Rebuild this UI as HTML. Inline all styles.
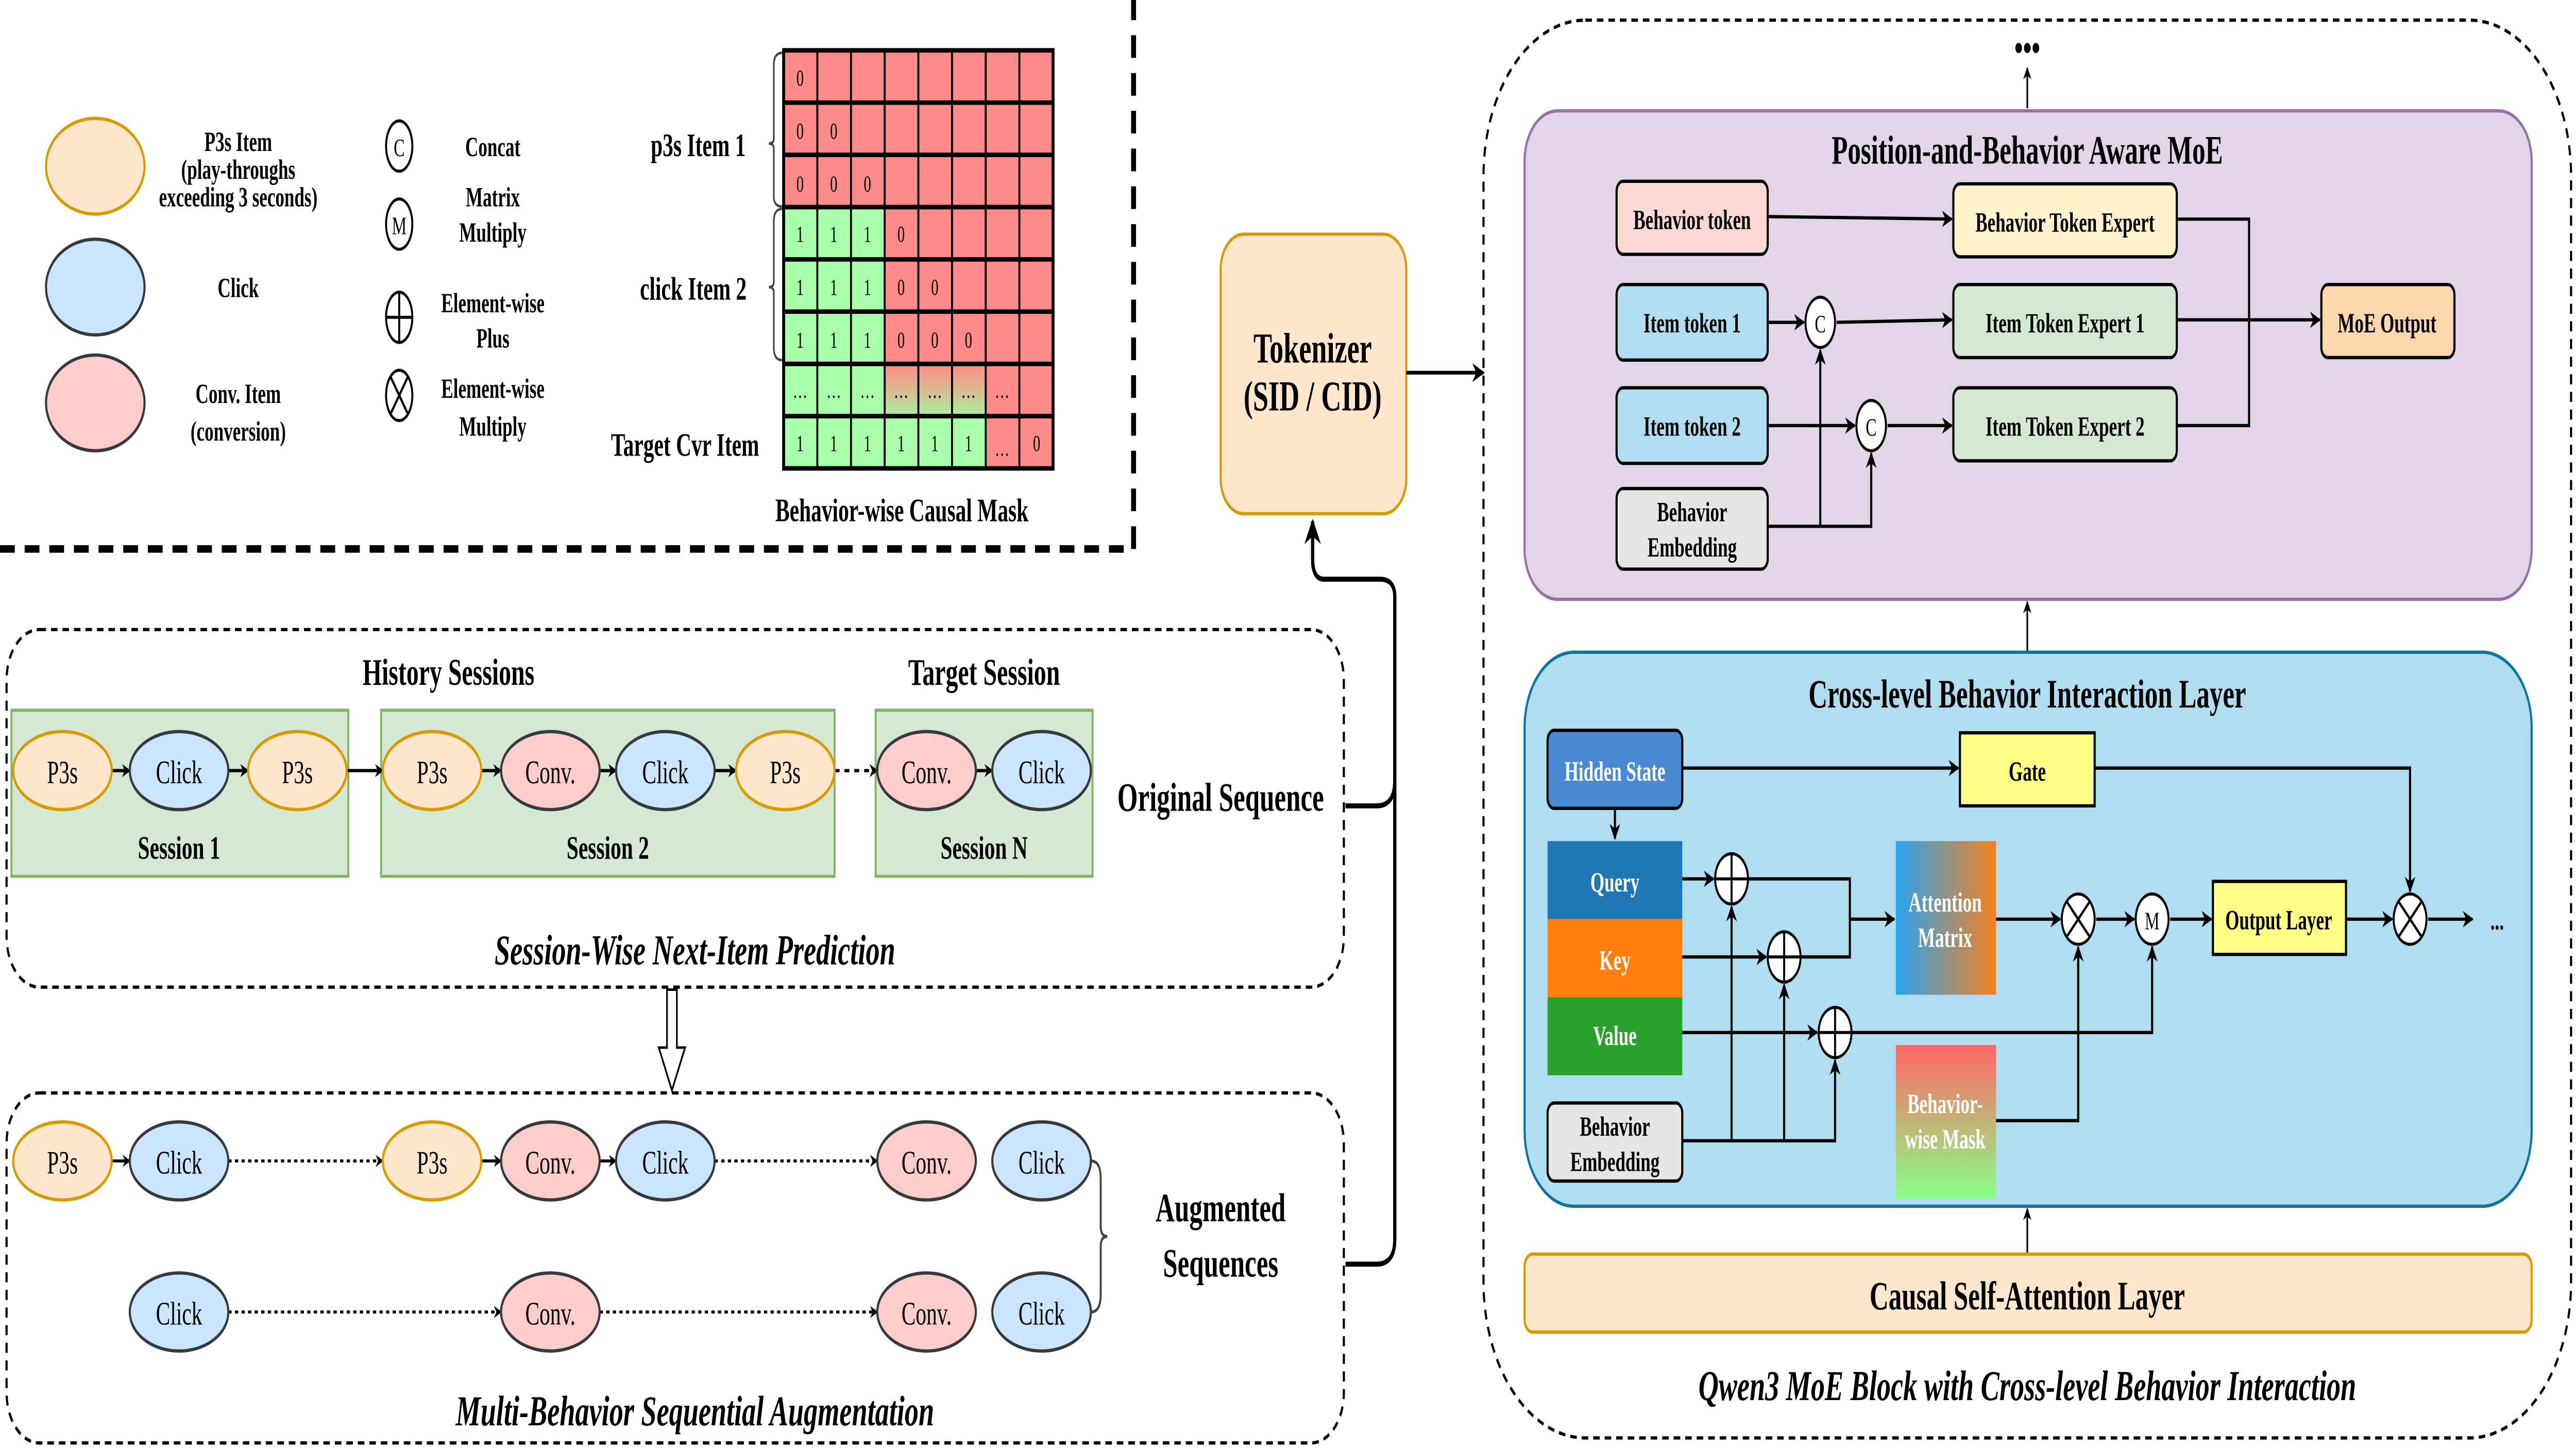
<!DOCTYPE html>
<html><head><meta charset="utf-8"><style>html,body{margin:0;padding:0;background:#fff;width:100vw;height:100vh;overflow:hidden}svg{display:block;position:absolute;left:0;top:0;width:100vw;height:100vh}</style></head>
<body>
<svg xmlns="http://www.w3.org/2000/svg" viewBox="0 0 1568 575" preserveAspectRatio="none" font-family="'Liberation Serif', serif" font-weight="bold">
<defs>
<marker id="a" viewBox="0 0 10 10" refX="9" refY="5" markerWidth="5" markerHeight="5" orient="auto"><path d="M0,0 L10,5 L0,10 L3,5 z" fill="#000"/></marker>
<marker id="s" viewBox="0 0 10 10" refX="9" refY="5" markerWidth="4" markerHeight="4" orient="auto"><path d="M0,0 L10,5 L0,10 L3,5 z" fill="#000"/></marker>
<linearGradient id="att" x1="0" x2="1" y1="0" y2="0"><stop offset="0" stop-color="#2aa3f2"/><stop offset="1" stop-color="#f58220"/></linearGradient>
<linearGradient id="msk" x1="0" x2="0" y1="0" y2="1"><stop offset="0" stop-color="#ff6666"/><stop offset="1" stop-color="#88ff88"/></linearGradient>
<linearGradient id="cg" x1="0" x2="0" y1="0" y2="1"><stop offset="0" stop-color="#ff8a8a"/><stop offset="0.5" stop-color="#d8bb90"/><stop offset="1" stop-color="#aaf0a0"/></linearGradient>
</defs>

<!-- LEGEND -->
<g stroke-width="1.3">
<ellipse cx="58" cy="66" rx="30" ry="19" fill="#ffe6cc" stroke="#d79b00"/>
<ellipse cx="58" cy="114" rx="30" ry="19" fill="#cce5ff" stroke="#36393d"/>
<ellipse cx="58" cy="160" rx="30" ry="19" fill="#ffcccc" stroke="#36393d"/>
</g>
<g font-size="11" text-anchor="middle">
<text x="145" y="60">P3s Item</text><text x="145" y="71">(play-throughs</text><text x="145" y="82">exceeding 3 seconds)</text>
<text x="145" y="118">Click</text>
<text x="145" y="160">Conv. Item</text><text x="145" y="175">(conversion)</text>
<text x="300" y="62">Concat</text>
<text x="300" y="82">Matrix</text><text x="300" y="96">Multiply</text>
<text x="300" y="124">Element-wise</text><text x="300" y="138">Plus</text>
<text x="300" y="158">Element-wise</text><text x="300" y="173">Multiply</text>
</g>
<g fill="#fff" stroke="#000" stroke-width="1.2">
<ellipse cx="243" cy="58" rx="8" ry="10"/><ellipse cx="243" cy="89" rx="8" ry="10"/>
<ellipse cx="243" cy="126" rx="8" ry="10"/><ellipse cx="243" cy="157" rx="8" ry="10"/>
</g>
<g stroke="#000" stroke-width="1.2"><line x1="235" y1="126" x2="251" y2="126"/><line x1="243" y1="116" x2="243" y2="136"/>
<line x1="238" y1="150" x2="248" y2="164"/><line x1="248" y1="150" x2="238" y2="164"/></g>
<g font-size="10" text-anchor="middle" font-weight="normal"><text x="243" y="62">C</text><text x="243" y="93">M</text></g>

<!-- MATRIX -->
<rect x="477" y="20" width="164" height="166" fill="#ff8a8a"/>
<rect x="477" y="82.25" width="61.5" height="103.75" fill="#aaffaa"/>
<rect x="538.5" y="165.25" width="61.5" height="20.75" fill="#aaffaa"/>
<rect x="538.5" y="144.5" width="61.5" height="20.75" fill="url(#cg)"/>
<g stroke="#000" stroke-width="1.2">
<rect x="477" y="20" width="164" height="166" fill="none" stroke-width="1.8"/>
<line x1="497.5" y1="20" x2="497.5" y2="186"/><line x1="518" y1="20" x2="518" y2="186"/><line x1="538.5" y1="20" x2="538.5" y2="186"/><line x1="559" y1="20" x2="559" y2="186"/><line x1="579.5" y1="20" x2="579.5" y2="186"/><line x1="600" y1="20" x2="600" y2="186"/><line x1="620.5" y1="20" x2="620.5" y2="186"/>
<g stroke-width="1.8"><line x1="477" y1="40.75" x2="641" y2="40.75"/><line x1="477" y1="61.5" x2="641" y2="61.5"/><line x1="477" y1="82.25" x2="641" y2="82.25"/><line x1="477" y1="103" x2="641" y2="103"/><line x1="477" y1="123.75" x2="641" y2="123.75"/><line x1="477" y1="144.5" x2="641" y2="144.5"/><line x1="477" y1="165.25" x2="641" y2="165.25"/></g>
</g>
<g font-size="9" font-weight="normal" text-anchor="middle">
<text x="487" y="34">0</text>
<text x="487" y="55">0</text><text x="507.5" y="55">0</text>
<text x="487" y="76">0</text><text x="507.5" y="76">0</text><text x="528" y="76">0</text>
<text x="487" y="96">1</text><text x="507.5" y="96">1</text><text x="528" y="96">1</text><text x="548.5" y="96">0</text>
<text x="487" y="117">1</text><text x="507.5" y="117">1</text><text x="528" y="117">1</text><text x="548.5" y="117">0</text><text x="569" y="117">0</text>
<text x="487" y="138">1</text><text x="507.5" y="138">1</text><text x="528" y="138">1</text><text x="548.5" y="138">0</text><text x="569" y="138">0</text><text x="589.5" y="138">0</text>
<text x="487" y="158">…</text><text x="507.5" y="158">…</text><text x="528" y="158">…</text><text x="548.5" y="158">…</text><text x="569" y="158">…</text><text x="589.5" y="158">…</text><text x="610" y="158">…</text>
<text x="487" y="179">1</text><text x="507.5" y="179">1</text><text x="528" y="179">1</text><text x="548.5" y="179">1</text><text x="569" y="179">1</text><text x="589.5" y="179">1</text><text x="610" y="181">…</text><text x="631" y="179">0</text>
</g>
<path d="M476,21 Q471,21 471,26 L471,55 Q471,57 468,57 Q471,57 471,59 L471,78 Q471,82 476,82" fill="none" stroke="#444" stroke-width="1"/>
<path d="M476,83 Q471,83 471,88 L471,112 Q471,114 468,114 Q471,114 471,116 L471,138 Q471,143 476,143" fill="none" stroke="#444" stroke-width="1"/>
<g font-size="13" text-anchor="middle">
<text x="425" y="62">p3s Item 1</text><text x="422" y="119">click Item 2</text><text x="417" y="181">Target Cvr Item</text>
<text x="549" y="207">Behavior-wise Causal Mask</text>
</g>
<path d="M0,218 L690,218 L690,0" fill="none" stroke="#000" stroke-width="3" stroke-dasharray="9,6"/>

<!-- TOP SESSION BOX -->
<rect x="4" y="250" width="814" height="142" rx="20" fill="none" stroke="#000" stroke-width="1.3" stroke-dasharray="4,3"/>
<g font-size="15" text-anchor="middle"><text x="273" y="272">History Sessions</text><text x="599" y="272">Target Session</text></g>
<g fill="#d5e8d4" stroke="#82b366" stroke-width="1.2">
<rect x="7" y="282" width="205" height="66"/><rect x="232" y="282" width="276" height="66"/><rect x="533" y="282" width="132" height="66"/>
</g>
<g font-size="13" text-anchor="middle"><text x="109" y="341">Session 1</text><text x="370" y="341">Session 2</text><text x="599" y="341">Session N</text></g>
<g stroke="#000" stroke-width="1.3" fill="none">
<line x1="68" y1="306" x2="79" y2="306" marker-end="url(#s)"/><line x1="139" y1="306" x2="151" y2="306" marker-end="url(#s)"/>
<line x1="211" y1="306" x2="233" y2="306" marker-end="url(#s)"/>
<line x1="293" y1="306" x2="305" y2="306" marker-end="url(#s)"/><line x1="365" y1="306" x2="375" y2="306" marker-end="url(#s)"/><line x1="435" y1="306" x2="448" y2="306" marker-end="url(#s)"/>
<line x1="508" y1="306" x2="534" y2="306" stroke-dasharray="3,3" marker-end="url(#s)"/>
<line x1="594" y1="306" x2="604" y2="306" marker-end="url(#s)"/>
</g>
<g stroke-width="1.3">
<ellipse cx="38" cy="306" rx="30" ry="15.5" fill="#ffe6cc" stroke="#d79b00"/>
<ellipse cx="109" cy="306" rx="30" ry="15.5" fill="#cce5ff" stroke="#36393d"/>
<ellipse cx="181" cy="306" rx="30" ry="15.5" fill="#ffe6cc" stroke="#d79b00"/>
<ellipse cx="263" cy="306" rx="30" ry="15.5" fill="#ffe6cc" stroke="#d79b00"/>
<ellipse cx="335" cy="306" rx="30" ry="15.5" fill="#ffcccc" stroke="#36393d"/>
<ellipse cx="405" cy="306" rx="30" ry="15.5" fill="#cce5ff" stroke="#36393d"/>
<ellipse cx="478" cy="306" rx="30" ry="15.5" fill="#ffe6cc" stroke="#d79b00"/>
<ellipse cx="564" cy="306" rx="30" ry="15.5" fill="#ffcccc" stroke="#36393d"/>
<ellipse cx="634" cy="306" rx="30" ry="15.5" fill="#cce5ff" stroke="#36393d"/>
</g>
<g font-size="13" text-anchor="middle" font-weight="normal">
<text x="38" y="311">P3s</text><text x="109" y="311">Click</text><text x="181" y="311">P3s</text><text x="263" y="311">P3s</text><text x="335" y="311">Conv.</text><text x="405" y="311">Click</text><text x="478" y="311">P3s</text><text x="564" y="311">Conv.</text><text x="634" y="311">Click</text>
</g>
<text x="743" y="322" font-size="16" text-anchor="middle">Original Sequence</text>
<text x="423" y="383" font-size="17" font-style="italic" text-anchor="middle">Session-Wise Next-Item Prediction</text>
<path d="M406,393 L412,393 L412,416 L417,416 L409,433 L401,416 L406,416 Z" fill="#fff" stroke="#000" stroke-width="1"/>

<!-- BOTTOM AUG BOX -->
<rect x="4" y="434" width="814" height="139" rx="20" fill="none" stroke="#000" stroke-width="1.3" stroke-dasharray="4,3"/>
<g stroke="#000" stroke-width="1.2" fill="none">
<line x1="68" y1="461" x2="79" y2="461" marker-end="url(#s)"/>
<line x1="139" y1="461" x2="233" y2="461" stroke-dasharray="2,2" marker-end="url(#s)"/>
<line x1="293" y1="461" x2="305" y2="461" marker-end="url(#s)"/><line x1="365" y1="461" x2="375" y2="461" marker-end="url(#s)"/>
<line x1="435" y1="461" x2="534" y2="461" stroke-dasharray="2,2" marker-end="url(#s)"/>
<line x1="139" y1="521" x2="305" y2="521" stroke-dasharray="2,2" marker-end="url(#s)"/>
<line x1="365" y1="521" x2="534" y2="521" stroke-dasharray="2,2" marker-end="url(#s)"/>
<path d="M664,461 Q670,461 670,468 L670,487 Q670,491 674,491 Q670,491 670,495 L670,514 Q670,521 664,521" stroke="#444"/>
</g>
<g stroke-width="1.3">
<ellipse cx="38" cy="461" rx="30" ry="15.5" fill="#ffe6cc" stroke="#d79b00"/>
<ellipse cx="109" cy="461" rx="30" ry="15.5" fill="#cce5ff" stroke="#36393d"/>
<ellipse cx="263" cy="461" rx="30" ry="15.5" fill="#ffe6cc" stroke="#d79b00"/>
<ellipse cx="335" cy="461" rx="30" ry="15.5" fill="#ffcccc" stroke="#36393d"/>
<ellipse cx="405" cy="461" rx="30" ry="15.5" fill="#cce5ff" stroke="#36393d"/>
<ellipse cx="564" cy="461" rx="30" ry="15.5" fill="#ffcccc" stroke="#36393d"/>
<ellipse cx="634" cy="461" rx="30" ry="15.5" fill="#cce5ff" stroke="#36393d"/>
<ellipse cx="109" cy="521" rx="30" ry="15.5" fill="#cce5ff" stroke="#36393d"/>
<ellipse cx="335" cy="521" rx="30" ry="15.5" fill="#ffcccc" stroke="#36393d"/>
<ellipse cx="564" cy="521" rx="30" ry="15.5" fill="#ffcccc" stroke="#36393d"/>
<ellipse cx="634" cy="521" rx="30" ry="15.5" fill="#cce5ff" stroke="#36393d"/>
</g>
<g font-size="13" text-anchor="middle" font-weight="normal">
<text x="38" y="466">P3s</text><text x="109" y="466">Click</text><text x="263" y="466">P3s</text><text x="335" y="466">Conv.</text><text x="405" y="466">Click</text><text x="564" y="466">Conv.</text><text x="634" y="466">Click</text>
<text x="109" y="526">Click</text><text x="335" y="526">Conv.</text><text x="564" y="526">Conv.</text><text x="634" y="526">Click</text>
</g>
<g font-size="16" text-anchor="middle"><text x="743" y="485">Augmented</text><text x="743" y="507">Sequences</text></g>
<text x="423" y="566" font-size="17" font-style="italic" text-anchor="middle">Multi-Behavior Sequential Augmentation</text>

<!-- TOKENIZER & CONNECTORS -->
<rect x="743" y="93" width="113" height="111" rx="14" fill="#ffe6cc" stroke="#d79b00" stroke-width="1.3"/>
<g font-size="17" text-anchor="middle"><text x="799" y="144">Tokenizer</text><text x="799" y="163">(SID / CID)</text></g>
<line x1="856" y1="148" x2="903" y2="148" stroke="#000" stroke-width="1.5" marker-end="url(#a)"/>
<path d="M819,320 L838,320 Q849,320 849,310 L849,237 Q849,230 840,230 L806,230 Q799,230 799,222 L799,207" fill="none" stroke="#000" stroke-width="2" marker-end="url(#a)"/>
<path d="M819,502 L838,502 Q849,502 849,492 L849,310" fill="none" stroke="#000" stroke-width="2"/>

<!-- RIGHT BIG BLOCK -->
<rect x="903" y="8" width="662" height="563" rx="62" fill="none" stroke="#000" stroke-width="1.3" stroke-dasharray="4,3"/>
<text x="1234" y="24" font-size="15" text-anchor="middle">•••</text>
<line x1="1234" y1="43" x2="1234" y2="27" stroke="#000" stroke-width="1" marker-end="url(#a)"/>

<!-- MoE -->
<rect x="928" y="44" width="613" height="194" rx="20" fill="#e1d5e7" stroke="#9673a6" stroke-width="1.3"/>
<text x="1234" y="65" font-size="16" text-anchor="middle">Position-and-Behavior Aware MoE</text>
<g stroke="#000" stroke-width="1.3">
<rect x="984" y="72" width="92" height="29" rx="4" fill="#fad9d5"/>
<rect x="1189" y="73" width="136" height="29" rx="4" fill="#fff2cc"/>
<rect x="984" y="113" width="92" height="30" rx="4" fill="#b1ddf0"/>
<rect x="1189" y="113" width="136" height="29" rx="4" fill="#d5e8d4"/>
<rect x="984" y="154" width="92" height="30" rx="4" fill="#b1ddf0"/>
<rect x="1189" y="154" width="136" height="29" rx="4" fill="#d5e8d4"/>
<rect x="984" y="194" width="92" height="32" rx="4" fill="#e6e6e6"/>
<rect x="1413" y="113" width="81" height="29" rx="4" fill="#fad7ac"/>
</g>
<g stroke="#000" stroke-width="1.3" fill="none">
<line x1="1076" y1="86" x2="1188" y2="87" marker-end="url(#a)"/>
<line x1="1076" y1="128" x2="1098" y2="128" marker-end="url(#a)"/>
<line x1="1118" y1="128" x2="1188" y2="127" marker-end="url(#a)"/>
<line x1="1076" y1="169" x2="1129" y2="169" marker-end="url(#a)"/>
<line x1="1149" y1="169" x2="1188" y2="169" marker-end="url(#a)"/>
<path d="M1076,209 L1139,209 L1139,180" marker-end="url(#a)"/>
<path d="M1108,209 L1108,139" marker-end="url(#a)"/>
<path d="M1325,87 L1369,87 L1369,169 L1325,169"/>
<line x1="1325" y1="127" x2="1412" y2="127" marker-end="url(#a)"/>
</g>
<g fill="#fff" stroke="#000" stroke-width="1.2"><ellipse cx="1108" cy="128" rx="9" ry="10"/><ellipse cx="1139" cy="169" rx="9" ry="10"/></g>
<g font-size="11" text-anchor="middle">
<text x="1030" y="91">Behavior token</text><text x="1257" y="92">Behavior Token Expert</text>
<text x="1030" y="132">Item token 1</text><text x="1257" y="132">Item Token Expert 1</text>
<text x="1030" y="173">Item token 2</text><text x="1257" y="173">Item Token Expert 2</text>
<text x="1030" y="207">Behavior</text><text x="1030" y="221">Embedding</text>
<text x="1453" y="132">MoE Output</text>
<text x="1108" y="132" font-weight="normal" font-size="10">C</text><text x="1139" y="173" font-weight="normal" font-size="10">C</text>
</g>
<line x1="1234" y1="259" x2="1234" y2="239" stroke="#000" stroke-width="1" marker-end="url(#a)"/>

<!-- CROSS-LEVEL -->
<rect x="928" y="259" width="613" height="220" rx="30" fill="#b1ddf0" stroke="#10739e" stroke-width="1.3"/>
<text x="1234" y="281" font-size="16" text-anchor="middle">Cross-level Behavior Interaction Layer</text>
<rect x="942" y="290" width="82" height="31" rx="4" fill="#4a8ad4" stroke="#000" stroke-width="1.3"/>
<rect x="1193" y="291" width="82" height="29" fill="#ffff88" stroke="#000" stroke-width="1.3"/>
<rect x="942" y="334" width="82" height="31" fill="#1f77b4"/>
<rect x="942" y="365" width="82" height="31" fill="#ff7f0e"/>
<rect x="942" y="396" width="82" height="31" fill="#2ca02c"/>
<rect x="942" y="438" width="82" height="31" rx="4" fill="#e6e6e6" stroke="#000" stroke-width="1.3"/>
<rect x="1154" y="334" width="61" height="61" fill="url(#att)"/>
<rect x="1154" y="415" width="61" height="61" fill="url(#msk)"/>
<rect x="1347" y="350" width="81" height="29" fill="#ffff88" stroke="#000" stroke-width="1.3"/>
<g stroke="#000" stroke-width="1.3" fill="none">
<line x1="983" y1="321" x2="983" y2="333" marker-end="url(#a)"/>
<line x1="1024" y1="305" x2="1192" y2="305" marker-end="url(#a)"/>
<path d="M1275,305 L1467,305 L1467,354" marker-end="url(#a)"/>
<line x1="1024" y1="349" x2="1043" y2="349" marker-end="url(#a)"/>
<line x1="1024" y1="380" x2="1075" y2="380" marker-end="url(#a)"/>
<line x1="1024" y1="410" x2="1106" y2="410" marker-end="url(#a)"/>
<path d="M1064,349 L1126,349 L1126,380 L1096,380"/>
<line x1="1126" y1="365" x2="1153" y2="365" marker-end="url(#a)"/>
<path d="M1127,410 L1310,410 L1310,376" marker-end="url(#a)"/>
<path d="M1024,453 L1117,453 L1117,421" marker-end="url(#a)"/>
<path d="M1054,453 L1054,360" marker-end="url(#a)"/>
<path d="M1086,453 L1086,391" marker-end="url(#a)"/>
<line x1="1215" y1="365" x2="1254" y2="365" marker-end="url(#a)"/>
<line x1="1276" y1="365" x2="1299" y2="365" marker-end="url(#a)"/>
<line x1="1321" y1="365" x2="1346" y2="365" marker-end="url(#a)"/>
<line x1="1428" y1="365" x2="1456" y2="365" marker-end="url(#a)"/>
<line x1="1478" y1="365" x2="1505" y2="365" marker-end="url(#a)"/>
<path d="M1215,445 L1265,445 L1265,376" marker-end="url(#a)"/>
</g>
<g fill="#fff" stroke="#000" stroke-width="1.2">
<ellipse cx="1054" cy="349" rx="10" ry="10"/><ellipse cx="1086" cy="380" rx="10" ry="10"/><ellipse cx="1117" cy="410" rx="10" ry="10"/>
<ellipse cx="1265" cy="365" rx="10" ry="10"/><ellipse cx="1310" cy="365" rx="10" ry="10"/><ellipse cx="1467" cy="365" rx="10" ry="10"/>
</g>
<g stroke="#000" stroke-width="1.2">
<line x1="1044" y1="349" x2="1064" y2="349"/><line x1="1054" y1="339" x2="1054" y2="359"/>
<line x1="1076" y1="380" x2="1096" y2="380"/><line x1="1086" y1="370" x2="1086" y2="390"/>
<line x1="1107" y1="410" x2="1127" y2="410"/><line x1="1117" y1="400" x2="1117" y2="420"/>
<line x1="1258" y1="358" x2="1272" y2="372"/><line x1="1272" y1="358" x2="1258" y2="372"/>
<line x1="1460" y1="358" x2="1474" y2="372"/><line x1="1474" y1="358" x2="1460" y2="372"/>
</g>
<g font-size="11" text-anchor="middle">
<text x="983" y="310" fill="#fff">Hidden State</text>
<text x="1234" y="310">Gate</text>
<text x="983" y="354" fill="#fff">Query</text><text x="983" y="385" fill="#fff">Key</text><text x="983" y="415" fill="#fff">Value</text>
<text x="983" y="451">Behavior</text><text x="983" y="465">Embedding</text>
<text x="1184" y="362" fill="#fff">Attention</text><text x="1184" y="376" fill="#fff">Matrix</text>
<text x="1184" y="442" fill="#fff">Behavior-</text><text x="1184" y="456" fill="#fff">wise Mask</text>
<text x="1387" y="369">Output Layer</text>
<text x="1310" y="369" font-weight="normal" font-size="10">M</text>
<text x="1520" y="369">...</text>
</g>
<line x1="1234" y1="498" x2="1234" y2="480" stroke="#000" stroke-width="1" marker-end="url(#a)"/>
<rect x="928" y="498" width="613" height="31" rx="5" fill="#ffe6cc" stroke="#d79b00" stroke-width="1.3"/>
<text x="1234" y="520" font-size="16" text-anchor="middle">Causal Self-Attention Layer</text>
<text x="1234" y="556" font-size="17" font-style="italic" text-anchor="middle">Qwen3 MoE Block with Cross-level Behavior Interaction</text>
</svg>
</body></html>
